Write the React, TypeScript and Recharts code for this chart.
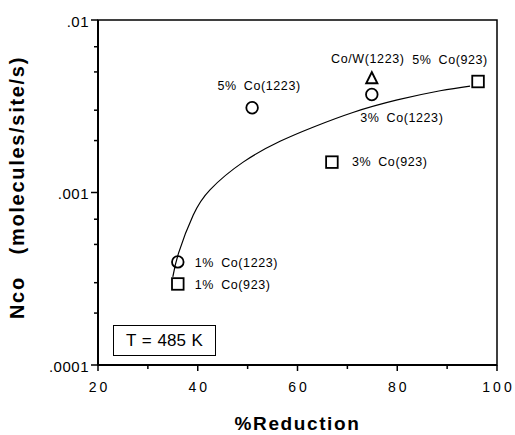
import React from "react";
import {
  ComposedChart,
  Line,
  Scatter,
  XAxis,
  YAxis,
  Label,
  ReferenceArea,
} from "recharts";

// measured samples
const sampleNames = [
  "1% Co(1223)",
  "1% Co(923)",
  "5% Co(1223)",
  "3% Co(923)",
  "Co/W(1223)",
  "3% Co(1223)",
  "5% Co(923)",
];
const sampleMarkers = ["circle", "square", "circle", "square", "triangle", "circle", "square"];
const reduction = [36.0, 36.0, 50.9, 66.9, 74.9, 74.9, 96.2];
const nco = [0.000396, 0.000295, 0.0031, 0.0015, 0.0046, 0.0037, 0.0044];

// hand-drawn trend curve
const fitReduction = [35.0, 36.2, 39.1, 42.5, 49.1, 56.5, 63.1, 71.1, 80.0, 88.6, 94.6];
const fitNco = [0.000324, 0.00045, 0.00074, 0.00104, 0.0015, 0.00198, 0.00239, 0.00291, 0.00344, 0.00389, 0.00414];

const xTicks = [20, 30, 40, 50, 60, 70, 80, 90, 100];
const xMajor = [20, 40, 60, 80, 100];
const yTicks = [
  0.0001, 0.0002, 0.0003, 0.0004, 0.0005, 0.0006, 0.0007, 0.0008, 0.0009,
  0.001, 0.002, 0.003, 0.004, 0.005, 0.006, 0.007, 0.008, 0.009, 0.01,
];
const yMajor = [0.0001, 0.001, 0.01];
const yMajorLabels = [".0001", ".001", ".01"];

const points = reduction.map((x, i) => ({ x, y: nco[i], name: sampleNames[i], marker: sampleMarkers[i] }));
const curve = fitReduction.map((x, i) => ({ x, y: fitNco[i] }));

const FONT = '"Liberation Sans", Arial, Helvetica, sans-serif';

// where each sample's label sits relative to its marker
const labelPlacement: Record<string, { dx: number; dy: number; anchor: "start" | "middle" }> = {
  "5% Co(1223)": { dx: 7, dy: -22, anchor: "middle" },
  "Co/W(1223)": { dx: -4, dy: -19, anchor: "middle" },
  "5% Co(923)": { dx: -28, dy: -22, anchor: "middle" },
  "3% Co(1223)": { dx: 30, dy: 24, anchor: "middle" },
  "3% Co(923)": { dx: 20, dy: 0, anchor: "start" },
  "1% Co(1223)": { dx: 17, dy: 1, anchor: "start" },
  "1% Co(923)": { dx: 17, dy: 1, anchor: "start" },
};

function SampleShape(props: any) {
  const { cx, cy, payload } = props;
  if (cx == null || cy == null) return null;
  const p = labelPlacement[payload.name];
  let mark: React.ReactNode;
  if (payload.marker === "circle") {
    mark = <circle cx={cx} cy={cy} r={5.8} fill="none" stroke="#000" strokeWidth={1.8} />;
  } else if (payload.marker === "square") {
    mark = <rect x={cx - 5.8} y={cy - 5.8} width={11.6} height={11.6} fill="none" stroke="#000" strokeWidth={1.8} />;
  } else {
    mark = (
      <polygon
        points={`${cx},${cy - 6} ${cx + 5.5},${cy + 5} ${cx - 5.5},${cy + 5}`}
        fill="none"
        stroke="#000"
        strokeWidth={2}
      />
    );
  }
  return (
    <g>
      {mark}
      <text
        x={cx + p.dx}
        y={cy + p.dy}
        textAnchor={p.anchor}
        dominantBaseline="central"
        fontFamily={FONT}
        fontSize={12.5}
        letterSpacing={0.6}
        wordSpacing={3}
        fill="#000"
      >
        {payload.name}
      </text>
    </g>
  );
}

function XTick(props: any) {
  const { x, y, payload } = props;
  const major = xMajor.includes(payload.value);
  return (
    <g>
      <line x1={x} x2={x} y1={y} y2={y + (major ? 6 : 4)} stroke="#000" strokeWidth={1.5} />
      {major && (
        <text
          x={x + 1.5}
          y={y + 22}
          textAnchor="middle"
          dominantBaseline="central"
          fontFamily={FONT}
          fontSize={14}
          letterSpacing={3}
          fill="#000"
        >
          {payload.value}
        </text>
      )}
    </g>
  );
}

function YTick(props: any) {
  const { x, y, payload } = props;
  const idx = yMajor.findIndex((v) => Math.abs(v - payload.value) < v * 1e-6);
  const major = idx >= 0;
  return (
    <g>
      <line x1={x - (major ? 7 : 4)} x2={x} y1={y} y2={y} stroke="#000" strokeWidth={1.5} />
      {major && (
        <text
          x={x - 9}
          y={y + 1}
          textAnchor="end"
          dominantBaseline="central"
          fontFamily={FONT}
          fontSize={15}
          letterSpacing={0.5}
          fill="#000"
        >
          {yMajorLabels[idx]}
        </text>
      )}
    </g>
  );
}

export default function App() {
  return (
    <div style={{ position: "absolute", left: 0, top: 0, width: 515, height: 435, background: "#fff" }}>
      <ComposedChart width={515} height={435} margin={{ top: 20, right: 18, bottom: 0, left: 0 }}>
        <XAxis
          type="number"
          dataKey="x"
          domain={[20, 100]}
          ticks={xTicks}
          tick={<XTick />}
          tickLine={false}
          tickSize={0}
          tickMargin={0}
          height={70}
          axisLine={{ stroke: "#000", strokeWidth: 2 }}
          allowDataOverflow
        >
          <Label
            content={({ viewBox }: any) => (
              <text
                x={viewBox.x + viewBox.width / 2}
                y={viewBox.y + 65}
                textAnchor="middle"
                fontFamily={FONT}
                fontWeight="bold"
                fontSize={19}
                letterSpacing={1.6}
                fill="#000"
              >
                %Reduction
              </text>
            )}
          />
        </XAxis>
        <YAxis
          type="number"
          dataKey="y"
          scale="log"
          domain={[0.0001, 0.01]}
          ticks={yTicks}
          tick={<YTick />}
          tickLine={false}
          tickSize={0}
          tickMargin={0}
          width={98}
          axisLine={{ stroke: "#000", strokeWidth: 2 }}
          allowDataOverflow
        >
          <Label
            content={({ viewBox }: any) => {
              const cy = viewBox.y + viewBox.height / 2 - 5;
              return (
                <text
                  x={24}
                  y={cy}
                  transform={`rotate(-90, 24, ${cy})`}
                  textAnchor="middle"
                  fontFamily={FONT}
                  fontWeight="bold"
                  fontSize={20}
                  letterSpacing={1.7}
                  fill="#000"
                >
                  {"Nco\u00a0\u00a0\u00a0(molecules/site/s)"}
                </text>
              );
            }}
          />
        </YAxis>
        <ReferenceArea x1={20} x2={100} y1={0.0001} y2={0.01} fill="none" stroke="#000" strokeWidth={1.5} ifOverflow="visible" />
        <Line
          data={curve}
          dataKey="y"
          type="natural"
          stroke="#000"
          strokeWidth={1.2}
          dot={false}
          activeDot={false}
          isAnimationActive={false}
        />
        <Scatter data={points} dataKey="y" shape={<SampleShape />} isAnimationActive={false} />
      </ComposedChart>
      <div
        style={{
          position: "absolute",
          left: 113,
          top: 325,
          width: 103,
          height: 31,
          boxSizing: "border-box",
          border: "1.5px solid #000",
          display: "flex",
          alignItems: "center",
          justifyContent: "center",
          fontFamily: FONT,
          fontSize: 17,
          wordSpacing: 1,
          color: "#000",
          background: "#fff",
        }}
      >
        T = 485 K
      </div>
    </div>
  );
}
